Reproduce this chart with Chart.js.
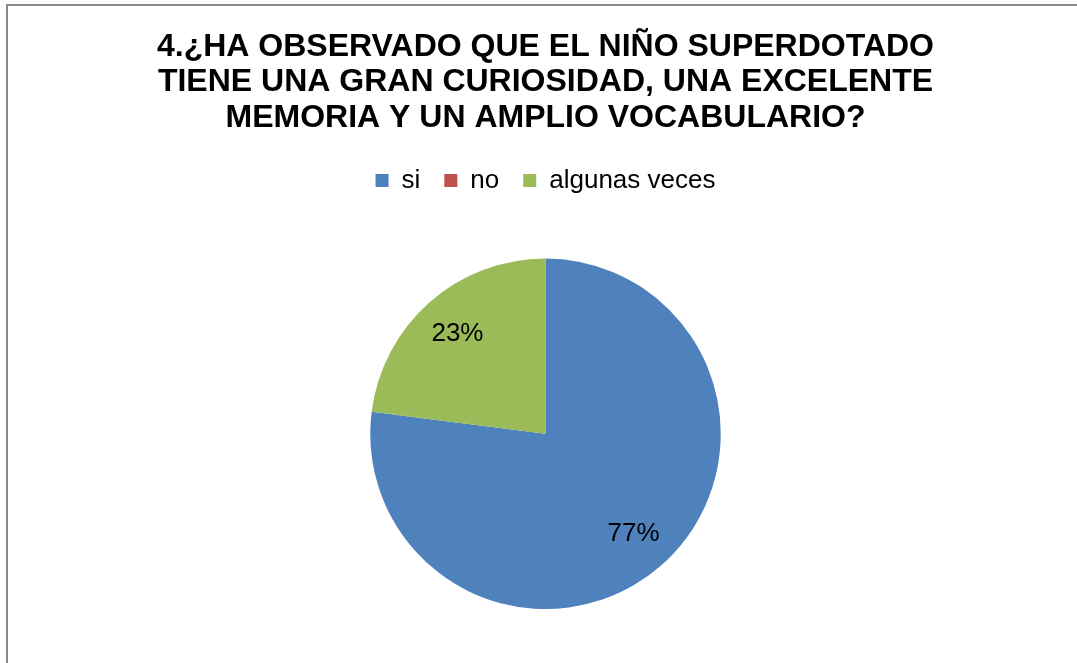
<!DOCTYPE html>
<html>
<head>
<meta charset="utf-8">
<script src="https://cdn.jsdelivr.net/npm/chart.js@4/dist/chart.umd.min.js"></script>
<style>
  html, body { margin: 0; padding: 0; background: #fff; }
  #wrap { position: relative; width: 1077px; height: 663px; overflow: hidden; }
  #frame { position: absolute; left: 6px; top: 4px; width: 1100px; height: 700px; border: 2px solid #888; box-sizing: border-box; }
  canvas { position: absolute; left: 0; top: 0; }
</style>
</head>
<body>
<div id="wrap">
  <div id="frame"></div>
  <canvas id="chart" width="1077" height="663"></canvas>
</div>
<script>
const titleLines = [
  '4.¿HA OBSERVADO QUE EL NIÑO SUPERDOTADO',
  'TIENE UNA GRAN CURIOSIDAD, UNA EXCELENTE',
  'MEMORIA Y UN AMPLIO VOCABULARIO?'
];
const categories = ['si', 'no', 'algunas veces'];
const values = [77, 0, 23];
const colors = ['#4F81BD', '#C0504D', '#9BBB59'];

const FONT = '"Liberation Sans", Arial, sans-serif';

// percentage labels inside the slices
const sliceLabels = {
  id: 'sliceLabels',
  afterDatasetsDraw(chart) {
    const ctx = chart.ctx;
    const meta = chart.getDatasetMeta(0);
    const total = values.reduce((a, b) => a + b, 0);
    ctx.save();
    ctx.font = '26px ' + FONT;
    ctx.fillStyle = '#000';
    ctx.textAlign = 'center';
    ctx.textBaseline = 'middle';
    meta.data.forEach((arc, i) => {
      if (!values[i]) return;
      const p = arc.getProps(['x', 'y', 'startAngle', 'endAngle', 'outerRadius'], true);
      const mid = (p.startAngle + p.endAngle) / 2;
      const r = p.outerRadius * 0.76;
      const pct = Math.round(values[i] / total * 100) + '%';
      ctx.fillText(pct, p.x + Math.cos(mid) * r, p.y + Math.sin(mid) * r);
    });
    ctx.restore();
  }
};

new Chart(document.getElementById('chart'), {
  type: 'pie',
  data: {
    labels: categories,
    datasets: [{
      data: values,
      backgroundColor: colors,
      borderWidth: 0
    }]
  },
  options: {
    responsive: false,
    animation: false,
    layout: { padding: { left: 14, right: 0, top: 0, bottom: 54 } },
    plugins: {
      title: {
        display: true,
        text: titleLines,
        color: '#000',
        font: { family: FONT, size: 32, weight: 'bold', lineHeight: 1.11 },
        padding: { top: 29, bottom: 8 }
      },
      legend: {
        position: 'top',
        labels: {
          color: '#000',
          boxWidth: 13,
          boxHeight: 13,
          padding: 24,
          font: { family: FONT, size: 26 }
        }
      },
      // empty spacer between legend and pie
      subtitle: {
        display: true,
        text: ' ',
        weight: 500,
        font: { size: 1, lineHeight: 1 },
        padding: { top: 0, bottom: 54 }
      },
      tooltip: { enabled: false }
    }
  },
  plugins: [sliceLabels]
});
</script>
</body>
</html>
